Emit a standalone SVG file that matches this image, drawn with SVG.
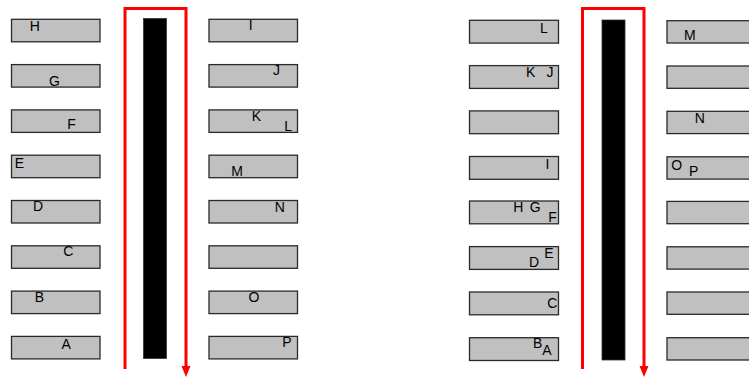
<svg xmlns="http://www.w3.org/2000/svg" width="749" height="377" viewBox="0 0 749 377">
<style>
.box{fill:#c0c0c0;stroke:#2a2a2a;stroke-width:1.3}
.bar{fill:#000;stroke:#333;stroke-width:0.8}
.flow{fill:none;stroke:#ff0000;stroke-width:3;marker-end:url(#arr)}
text{font-family:"Liberation Sans",Arial,sans-serif;font-size:14px;fill:#000}
</style>
<defs>
<marker id="arr" markerUnits="userSpaceOnUse" viewBox="0 -5 11 10" markerWidth="11" markerHeight="10" refX="0" refY="0" orient="auto">
<path d="M0,-4.5 L11,0 L0,4.5 Z" fill="#ff0000"/>
</marker>
</defs>
<rect width="749" height="377" fill="#fff"/>
<g id="connectors">
<path class="flow" d="M125,369 V8.5 H186 V366"/>
<path class="flow" d="M582.5,369 V8.5 H644 V366"/>
</g>
<g id="bar-left"><rect class="bar" x="143.5" y="18.5" width="23" height="340"/></g>
<g id="bar-right"><rect class="bar" x="602" y="20" width="23" height="340"/></g>
<g id="left-panel-left-boxes">
<g id="lb1"><rect class="box" x="11.5" y="19.3" width="88.5" height="22.5"/><text x="29.7" y="31">H</text></g>
<g id="lb2"><rect class="box" x="11.5" y="64.6" width="88.5" height="22.5"/><text x="49" y="85.5">G</text></g>
<g id="lb3"><rect class="box" x="11.5" y="109.9" width="88.5" height="22.5"/><text x="67.3" y="129">F</text></g>
<g id="lb4"><rect class="box" x="11.5" y="155.2" width="88.5" height="22.5"/><text x="14.7" y="167.5">E</text></g>
<g id="lb5"><rect class="box" x="11.5" y="200.5" width="88.5" height="22.5"/><text x="33" y="210.7">D</text></g>
<g id="lb6"><rect class="box" x="11.5" y="245.8" width="88.5" height="22.5"/><text x="63.3" y="256">C</text></g>
<g id="lb7"><rect class="box" x="11.5" y="291.1" width="88.5" height="22.5"/><text x="34.7" y="302">B</text></g>
<g id="lb8"><rect class="box" x="11.5" y="336.4" width="88.5" height="22.5"/><text x="61.5" y="349">A</text></g>
</g>
<g id="left-panel-right-boxes">
<g id="rb1"><rect class="box" x="209" y="19.3" width="88.5" height="22.5"/><text x="248.7" y="30">I</text></g>
<g id="rb2"><rect class="box" x="209" y="64.6" width="88.5" height="22.5"/><text x="273" y="75">J</text></g>
<g id="rb3"><rect class="box" x="209" y="109.9" width="88.5" height="22.5"/><text x="251.7" y="120.5">K</text><text x="284.3" y="131">L</text></g>
<g id="rb4"><rect class="box" x="209" y="155.2" width="88.5" height="22.5"/><text x="231.3" y="175.7">M</text></g>
<g id="rb5"><rect class="box" x="209" y="200.5" width="88.5" height="22.5"/><text x="274.7" y="212.3">N</text></g>
<g id="rb6"><rect class="box" x="209" y="245.8" width="88.5" height="22.5"/></g>
<g id="rb7"><rect class="box" x="209" y="291.1" width="88.5" height="22.5"/><text x="248.5" y="302">O</text></g>
<g id="rb8"><rect class="box" x="209" y="336.4" width="88.5" height="22.5"/><text x="282.3" y="347.3">P</text></g>
</g>
<g id="right-panel-left-boxes">
<g id="lb9"><rect class="box" x="469.5" y="20.3" width="89" height="22.8"/><text x="540" y="32.5">L</text></g>
<g id="lb10"><rect class="box" x="469.5" y="65.6" width="89" height="22.8"/><text x="526" y="76.7">K</text><text x="546.5" y="77">J</text></g>
<g id="lb11"><rect class="box" x="469.5" y="110.9" width="89" height="22.8"/></g>
<g id="lb12"><rect class="box" x="469.5" y="156.5" width="89" height="22.8"/><text x="545.5" y="168.7">I</text></g>
<g id="lb13"><rect class="box" x="469.5" y="201" width="89" height="22.8"/><text x="513.3" y="212">H</text><text x="529.7" y="212">G</text><text x="548.3" y="222">F</text></g>
<g id="lb14"><rect class="box" x="469.5" y="246.6" width="89" height="22.8"/><text x="544.3" y="257.5">E</text><text x="529" y="266.7">D</text></g>
<g id="lb15"><rect class="box" x="469.5" y="292" width="89" height="22.8"/><text x="547.3" y="307.7">C</text></g>
<g id="lb16"><rect class="box" x="469.5" y="337.7" width="89" height="22.8"/><text x="533" y="348.3">B</text><text x="542.3" y="355">A</text></g>
</g>
<g id="right-panel-right-boxes">
<g id="rb9"><rect class="box" x="667" y="20.7" width="89" height="22.3"/><text x="684" y="40">M</text></g>
<g id="rb10"><rect class="box" x="667" y="66" width="89" height="22.3"/></g>
<g id="rb11"><rect class="box" x="667" y="111.3" width="89" height="22.3"/><text x="694.7" y="122.7">N</text></g>
<g id="rb12"><rect class="box" x="667" y="156.8" width="89" height="22.3"/><text x="671.3" y="169.5">O</text><text x="689" y="175.7">P</text></g>
<g id="rb13"><rect class="box" x="667" y="201.4" width="89" height="22.3"/></g>
<g id="rb14"><rect class="box" x="667" y="246.8" width="89" height="22.3"/></g>
<g id="rb15"><rect class="box" x="667" y="292" width="89" height="22.3"/></g>
<g id="rb16"><rect class="box" x="667" y="337.7" width="89" height="22.3"/></g>
</g>
</svg>
